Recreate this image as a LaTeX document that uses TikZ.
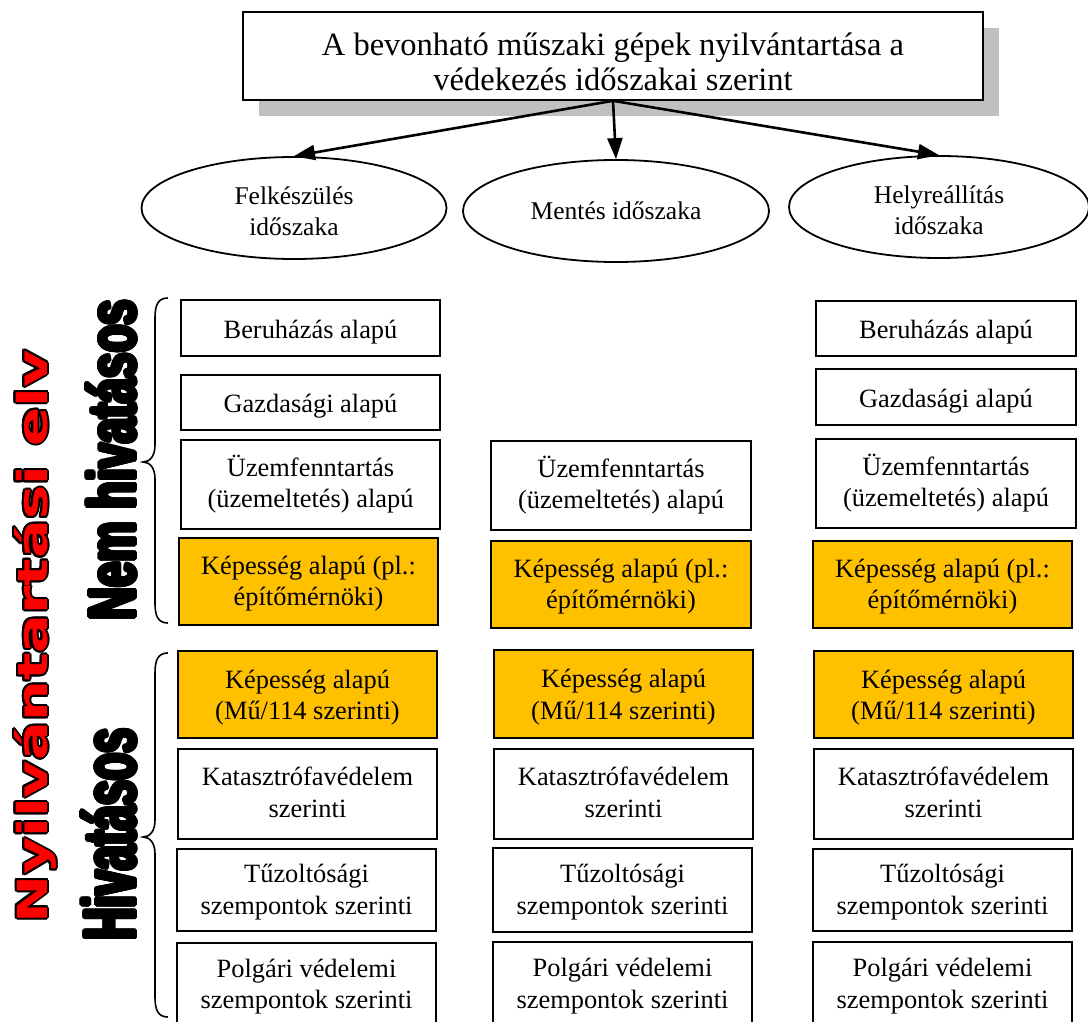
\documentclass[tikz,border=0pt]{standalone}
\usepackage{fontspec}
\setmainfont{Liberation Serif}
\newfontfamily\headfont{DejaVu Sans}
\newfontfamily\groupfont{Liberation Sans}
\usetikzlibrary{arrows.meta,shapes.geometric,calc}

\definecolor{capgold}{HTML}{FFC000}
\definecolor{shadowgray}{HTML}{C0C0C0}
\definecolor{rimred}{HTML}{FF0000}

% lower a text inside its node without changing the node's size
\newcommand\lowered[2]{\raisebox{-#1}[\height][\depth]{#2}}
% centred lines, lowered by the given amount
\newcommand\lines[2]{\lowered{#1}{\begin{tabular}{@{}c@{}}#2\end{tabular}}}

% a box given by its corners: name, style, x1, y1, x2, y2, text drop, text
\newcommand\cellat[8]{%
  \node[#2, minimum width={#5-#3}, minimum height={#6-#4}] (#1)
    at ({(#3+#5)/2},{(#4+#6)/2}) {\lines{#7}{#8}};}

% rotated heading with a rim: name, baseline point, rim radius, fill colour, text
\newcommand\rimlabel[5]{%
  \foreach \a [count=\i] in {0,22.5,...,337.5}
    \node[sidelabel, text=black] (#1-rim\i) at ($#2+(\a:#3)$) {#5};
  \node[sidelabel, text=#4] (#1) at #2 {#5};}

\begin{document}
\begin{tikzpicture}[x=1pt,y=-1pt,
  cell/.style={draw=black, line width=1.6pt, fill=white,
    inner sep=0pt, font=\fontsize{26.4}{31.5}\selectfont},
  gold/.style={cell, fill=capgold},
  period/.style={ellipse, draw=black, line width=1.8pt, fill=white,
    inner sep=0pt, font=\fontsize{25.5}{31}\selectfont},
  link/.style={line width=2.6pt, -{Triangle[length=21pt,width=15pt]}},
  brace/.style={line width=1.6pt},
  sidelabel/.style={rotate=90, anchor=base, inner sep=0pt},
]
\fill[white] (0,0) rectangle (1088,1022);
\useasboundingbox (0,0) rectangle (1088,1022);

% title with its drop shadow
\fill[shadowgray] (259,28) rectangle (999,116);
\node[draw=black, line width=1.6pt, fill=white, inner sep=0pt,
  minimum width=740, minimum height=88,
  font=\fontsize{32.5}{34.5}\selectfont] (title) at (613,56)
  {\lines{10pt}{A bevonható műszaki gépek nyilvántartása a\\védekezés időszakai szerint}};

% the three periods
\node[period, minimum width=305, minimum height=102] (prep) at (294,208)
  {\lines{6pt}{Felkészülés\\időszaka}};
\node[period, minimum width=306, minimum height=102] (rescue) at (616,211)
  {Mentés időszaka};
\node[period, minimum width=300, minimum height=102] (restore) at (939,207)
  {\lines{6pt}{Helyreállítás\\időszaka}};

\draw[link] (title.south) -- (prep.north);
\draw[link] (title.south) -- (rescue.north);
\draw[link] (title.south) -- (restore.north);

% first column
\cellat{c1b}{cell}{181}{300}{440}{356}{4pt}{Beruházás alapú}
\cellat{c1g}{cell}{181}{375}{440}{430}{4pt}{Gazdasági alapú}
\cellat{c1u}{cell}{181}{440}{440}{529}{1pt}{Üzemfenntartás\\(üzemeltetés) alapú}
\cellat{c1k}{gold}{179}{538}{438}{625}{2pt}{Képesség alapú (pl.:\\építőmérnöki)}
\cellat{c1m}{gold}{178}{651}{437}{738}{3pt}{Képesség alapú\\(Mű/114 szerinti)}
\cellat{c1d}{cell}{178}{749}{437}{839}{1pt}{Katasztrófavédelem\\szerinti}
\cellat{c1t}{cell}{177}{849}{436}{931}{2pt}{Tűzoltósági\\szempontok szerinti}
\cellat{c1p}{cell}{177}{943}{436}{1028}{1pt}{Polgári védelemi\\szempontok szerinti}

% second column
\cellat{c2u}{cell}{491}{441}{751}{530}{1pt}{Üzemfenntartás\\(üzemeltetés) alapú}
\cellat{c2k}{gold}{491}{541}{751}{628}{2pt}{Képesség alapú (pl.:\\építőmérnöki)}
\cellat{c2m}{gold}{494}{650}{753}{738}{3pt}{Képesség alapú\\(Mű/114 szerinti)}
\cellat{c2d}{cell}{494}{749}{753}{839}{1pt}{Katasztrófavédelem\\szerinti}
\cellat{c2t}{cell}{493}{848}{752}{932}{2pt}{Tűzoltósági\\szempontok szerinti}
\cellat{c2p}{cell}{493}{942}{752}{1028}{1pt}{Polgári védelemi\\szempontok szerinti}

% third column
\cellat{c3b}{cell}{816}{301}{1076}{356}{4pt}{Beruházás alapú}
\cellat{c3g}{cell}{816}{369}{1076}{425}{4pt}{Gazdasági alapú}
\cellat{c3u}{cell}{816}{439}{1076}{528}{1pt}{Üzemfenntartás\\(üzemeltetés) alapú}
\cellat{c3k}{gold}{813}{541}{1072}{628}{2pt}{Képesség alapú (pl.:\\építőmérnöki)}
\cellat{c3m}{gold}{814}{651}{1073}{738}{3pt}{Képesség alapú\\(Mű/114 szerinti)}
\cellat{c3d}{cell}{814}{749}{1073}{839}{1pt}{Katasztrófavédelem\\szerinti}
\cellat{c3t}{cell}{813}{849}{1072}{931}{2pt}{Tűzoltósági\\szempontok szerinti}
\cellat{c3p}{cell}{813}{942}{1072}{1028}{1pt}{Polgári védelemi\\szempontok szerinti}

% curly braces grouping the rows
\draw[brace] (168,298) .. controls (158,298) and (155,305) .. (155,318)
  -- (155,445) .. controls (155,456) and (150,462) .. (143,462)
  .. controls (150,462) and (155,468) .. (155,479)
  -- (155,603) .. controls (155,616) and (158,623) .. (168,623);
\draw[brace] (168,653) .. controls (158,653) and (155,660) .. (155,673)
  -- (155,820) .. controls (155,831) and (150,837) .. (143,837)
  .. controls (150,837) and (155,843) .. (155,854)
  -- (155,997) .. controls (155,1010) and (158,1017) .. (168,1017);

% vertical headings
\rimlabel{principle}{(47,636.5)}{2}{rimred}
  {\resizebox{573pt}{33pt}{\headfont\bfseries Nyilvántartási elv}}
\rimlabel{amateur}{(135.5,460)}{2}{black}
  {\resizebox{320pt}{49pt}{\groupfont\bfseries Nem hivatásos}}
\rimlabel{professional}{(135.5,834.5)}{2}{black}
  {\resizebox{212pt}{54pt}{\groupfont\bfseries Hivatásos}}
\end{tikzpicture}
\end{document}
